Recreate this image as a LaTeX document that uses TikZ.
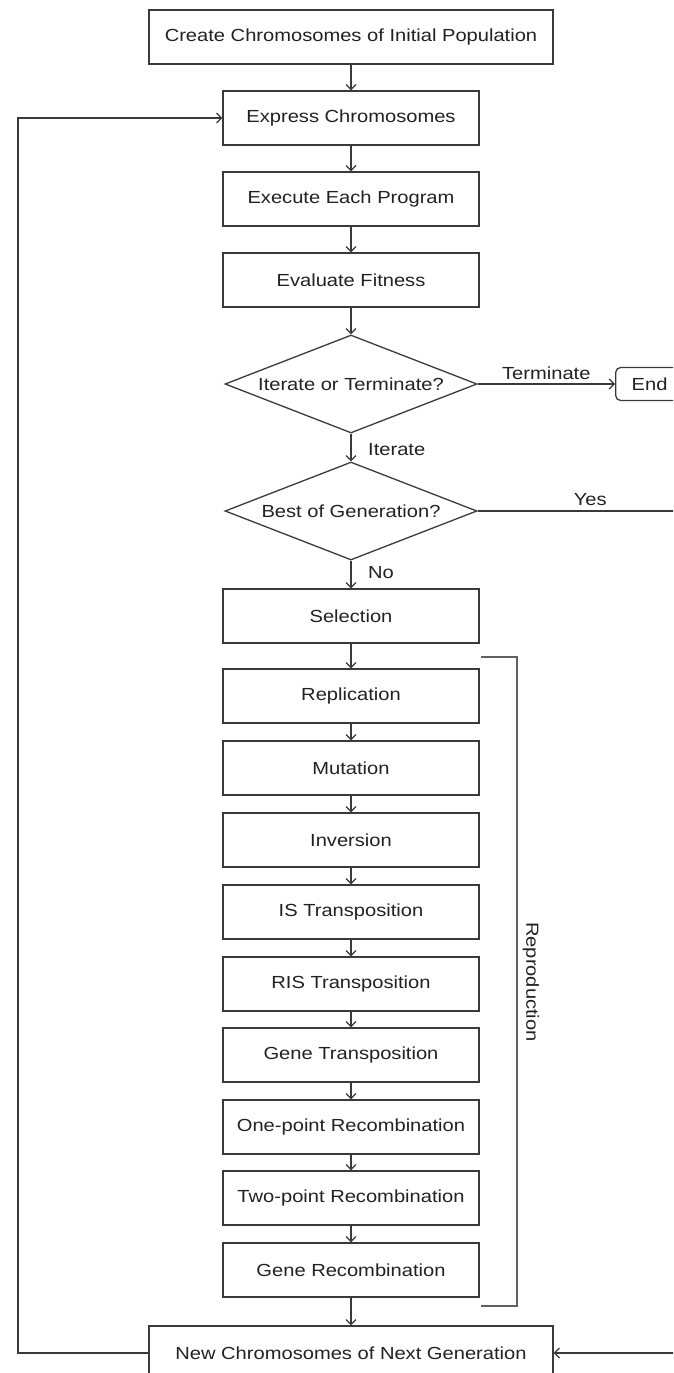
\documentclass[tikz,border=0pt]{standalone}
\usepackage{fontspec}
\setmainfont{Liberation Sans}[FakeStretch=1.15]
\usetikzlibrary{arrows.meta,shapes.geometric}
\definecolor{edge}{HTML}{3A3A3A}
\definecolor{ink}{HTML}{222222}
\begin{document}
\begin{tikzpicture}[x=1pt,y=-1pt,
  every node/.style={font=\fontsize{17.5}{20}\selectfont, text=ink},
  box/.style={draw=edge, line width=1.3pt, rectangle, minimum width=256pt, minimum height=54pt, inner sep=0pt},
  widebox/.style={box, minimum width=404pt},
  dia/.style={draw=edge, line width=1.3pt, diamond, aspect=2.57, minimum width=252pt, minimum height=98pt, inner sep=0pt},
  endbox/.style={draw=edge, line width=1.3pt, rectangle, rounded corners=5pt, minimum height=33pt, inner xsep=16pt, inner ysep=0pt, anchor=west},
  conn/.style={draw=edge, line width=1.2pt, -{Straight Barb[length=5pt,width=10pt]}},
  plain/.style={draw=edge, line width=1.2pt},
  brk/.style={draw=edge!80, line width=1.3pt},
  lbl/.style={inner sep=0pt}
]
\useasboundingbox (0,0) rectangle (673,1373);
\clip (0,0) rectangle (673,1373);
\fill[white] (0,0) rectangle (673,1373);

\node[widebox] (create) at (351,37) {Create Chromosomes of Initial Population};
\node[box] (express) at (351,118) {Express Chromosomes};
\node[box] (execute) at (351,199) {Execute Each Program};
\node[box] (evaluate) at (351,280) {Evaluate Fitness};
\node[dia] (iter) at (351,384) {Iterate or Terminate?};
\node[endbox] (end) at (615,384) {End};
\node[dia] (best) at (351,511) {Best of Generation?};
\node[box] (selection) at (351,616) {Selection};
\node[box] (repl) at (351,696) {Replication};
\node[box] (mut) at (351,768) {Mutation};
\node[box] (inv) at (351,840) {Inversion};
\node[box] (ist) at (351,912) {IS Transposition};
\node[box] (rist) at (351,984) {RIS Transposition};
\node[box] (genet) at (351,1055) {Gene Transposition};
\node[box] (onep) at (351,1127) {One-point Recombination};
\node[box] (twop) at (351,1198) {Two-point Recombination};
\node[box] (gener) at (351,1270) {Gene Recombination};
\node[widebox] (newgen) at (351,1353) {New Chromosomes of Next Generation};

\draw[conn] (create) -- (express);
\draw[conn] (express) -- (execute);
\draw[conn] (execute) -- (evaluate);
\draw[conn] (evaluate) -- (iter);
\draw[conn] (iter) -- node[lbl, above=4pt, pos=0.5] (term) {Terminate} (end);
\draw[conn] (iter) -- (best);
\node[lbl, anchor=west] (iterlbl) at (368,450) {Iterate};
\draw[conn] (best) -- (selection);
\node[lbl, anchor=west] (nolbl) at (368,573) {No};
\draw[conn] (selection) -- (repl);
\draw[conn] (repl) -- (mut);
\draw[conn] (mut) -- (inv);
\draw[conn] (inv) -- (ist);
\draw[conn] (ist) -- (rist);
\draw[conn] (rist) -- (genet);
\draw[conn] (genet) -- (onep);
\draw[conn] (onep) -- (twop);
\draw[conn] (twop) -- (gener);
\draw[conn] (gener) -- (newgen);

\coordinate (yesR) at (690,511);
\coordinate (yesB) at (690,1353);
\draw[plain] (best.east) -- node[lbl, above=5pt, pos=0.53] (yeslbl) {Yes} (yesR);
\draw[conn] (yesR) -- (yesB) -- (newgen.east);

\coordinate (loopB) at (18,1353);
\coordinate (loopT) at (18,118);
\draw[conn] (newgen.west) -- (loopB) -- (loopT) -- (express.west);

\coordinate (b1) at (481,657);
\coordinate (b2) at (517,657);
\coordinate (b3) at (517,1306);
\coordinate (b4) at (481,1306);
\draw[brk] (b1) -- (b2) -- (b3) -- (b4);
\node[lbl, rotate=-90] (repro) at (531,982) {Reproduction};
\end{tikzpicture}
\end{document}
